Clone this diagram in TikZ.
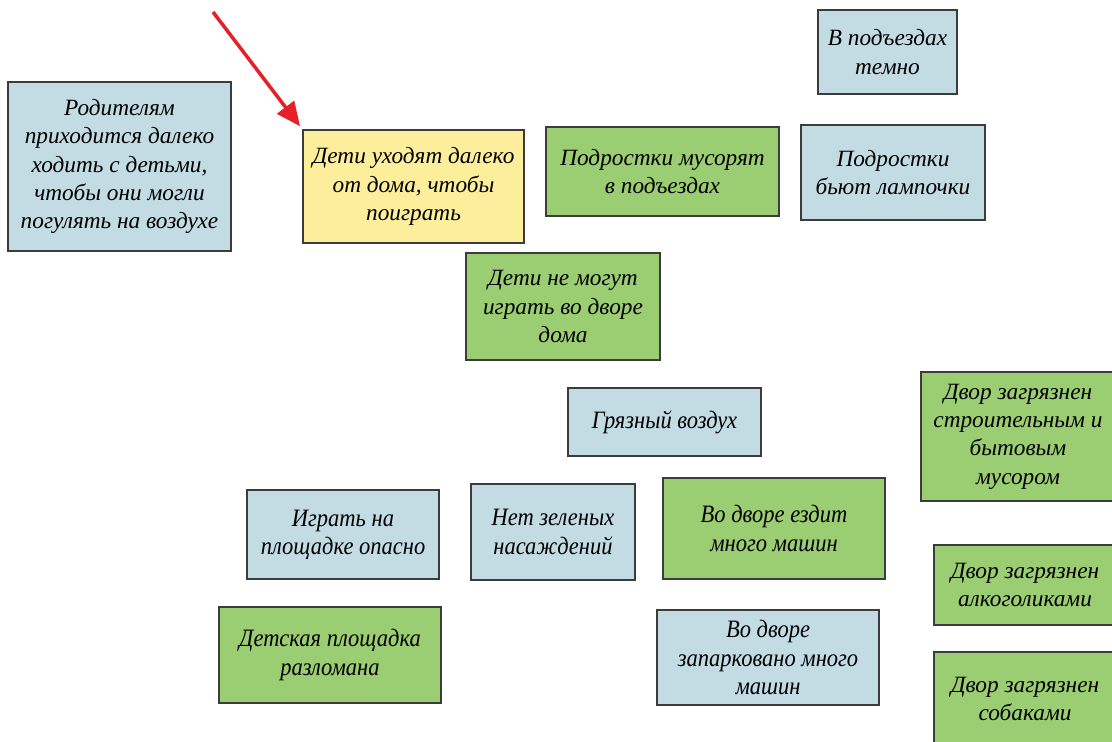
\documentclass[tikz,border=0pt]{standalone}
\usepackage{fontspec}
\setmainfont{Liberation Serif}
\newfontfamily\condfont[FakeStretch=0.9]{Liberation Serif}
\usetikzlibrary{arrows.meta}
\definecolor{bluebox}{RGB}{195,220,228}
\definecolor{greenbox}{RGB}{155,205,115}
\definecolor{yellowbox}{RGB}{252,238,155}
\definecolor{edgegray}{RGB}{60,60,60}
\definecolor{arrowred}{RGB}{230,32,40}
\tikzset{
  card/.style={draw=edgegray, line width=1.1pt, rectangle, align=center, inner sep=2pt,
    font=\fontsize{23.3}{28.3}\selectfont\itshape},
  condcard/.style={card, font=\fontsize{25}{28.3}\selectfont\condfont\itshape},
  bluecard/.style={card, fill=bluebox},
  greencard/.style={card, fill=greenbox},
  yellowcard/.style={card, fill=yellowbox},
  sz/.style 2 args={minimum width=#1pt, minimum height=#2pt},
  redarrow/.style={draw=arrowred, line width=3.5pt, -{Triangle[length=24pt,width=21pt]}}
}
\begin{document}
\begin{tikzpicture}[x=1pt,y=-1pt]
\useasboundingbox (0,0) rectangle (1112,742);
\node[bluecard, sz={223}{169}] (parents) at (119.5,166.5) {Родителям\\приходится далеко\\ходить с детьми,\\чтобы они могли\\погулять на воздухе};
\node[yellowcard, sz={221}{113}] (kids) at (413.5,186.5) {Дети уходят далеко\\от дома, чтобы\\поиграть};
\node[greencard, sz={233}{89}] (litter) at (662.5,171.5) {Подростки мусорят\\в подъездах};
\node[bluecard, sz={139}{84}] (dark) at (887.5,52) {В подъездах\\темно};
\node[bluecard, sz={184}{95}] (bulbs) at (893,172.5) {Подростки\\бьют лампочки};
\node[greencard, sz={194}{107}] (noplay) at (563,306.5) {Дети не могут\\играть во дворе\\дома};
\node[bluecard, condcard, sz={193}{68}] (air) at (664.5,422) {Грязный воздух};
\node[greencard, sz={194}{129}] (rubbish) at (1018,436.5) {Двор загрязнен\\строительным и\\бытовым\\мусором};
\node[bluecard, condcard, sz={192}{89}] (danger) at (343,534.5) {Играть на\\площадке опасно};
\node[bluecard, condcard, sz={164}{96}] (nogreen) at (553,532) {Нет зеленых\\насаждений};
\node[greencard, condcard, sz={222}{101}] (drive) at (774,528.5) {Во дворе ездит\\много машин};
\node[greencard, sz={182}{80}] (alco) at (1025,585) {Двор загрязнен\\алкоголиками};
\node[greencard, condcard, sz={222}{96}] (broken) at (330,655) {Детская площадка\\разломана};
\node[bluecard, condcard, sz={222}{95}] (parked) at (768,657.5) {Во дворе\\запарковано много\\машин};
\node[greencard, sz={182}{94}] (dogs) at (1025,699) {Двор загрязнен\\собаками};
\coordinate (astart) at (213,12);
\draw[redarrow, shorten >=4pt] (astart) -- (kids.north west);
\end{tikzpicture}
\end{document}
